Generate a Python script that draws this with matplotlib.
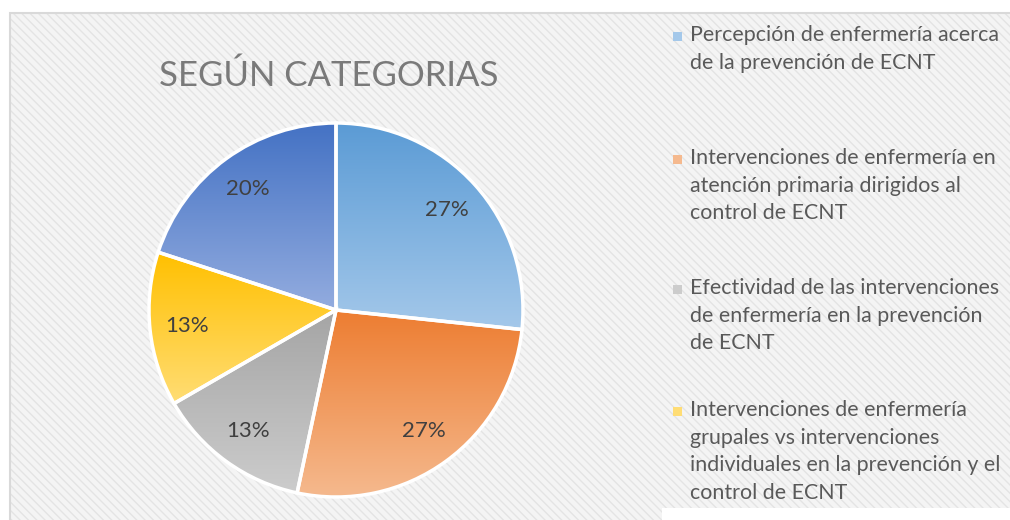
import numpy as np
import matplotlib
matplotlib.use("Agg")
import matplotlib.pyplot as plt
from matplotlib.patches import Rectangle
from matplotlib.colors import LinearSegmentedColormap

# data
categories = [
    "Percepción de enfermería acerca\nde la prevención de ECNT",
    "Intervenciones de enfermería en\natención primaria dirigidos al\ncontrol de ECNT",
    "Efectividad de las intervenciones\nde enfermería en la prevención\nde ECNT",
    "Intervenciones de enfermería\ngrupales vs intervenciones\nindividuales en la prevención y el\ncontrol de ECNT",
    "",
]
counts = [4, 4, 2, 2, 3]
title = "SEGÚN CATEGORIAS"

# gradient (top, bottom) per slice
grad_colors = [
    ("#5b9bd5", "#a4c8ea"),
    ("#ed7d31", "#f5b98e"),
    ("#a5a5a5", "#cccccc"),
    ("#ffc000", "#ffdd75"),
    ("#4472c4", "#93acdf"),
]

plt.rcParams['font.family'] = ['Lato', 'DejaVu Sans']

W, H = 1010, 520
fig = plt.figure(figsize=(W / 100, H / 100), dpi=100)
fig.patch.set_facecolor("white")

# chart area background with texture
bg = Rectangle((10 / W, 0), 1.0, (H - 13) / H, transform=fig.transFigure,
               facecolor="#f4f4f4", edgecolor="#e4e4e4", hatch="\\\\\\\\",
               linewidth=0, zorder=-3)
fig.patches.append(bg)
border = Rectangle((10 / W, -0.01), 1.0, (H - 13) / H + 0.01, transform=fig.transFigure,
                   facecolor="none", edgecolor="#d9d9d9", linewidth=1.5, zorder=-2)
fig.patches.append(border)
fig.patches.append(Rectangle((662 / W, 0), 1.0, 12 / H, transform=fig.transFigure,
                             facecolor="white", edgecolor="none", zorder=-2))

# pie axes
cx, cy, r = 336, 310, 187
lim = 1.1
side = 2 * lim * r
ax = fig.add_axes([(cx - side / 2) / W, (H - cy - side / 2) / H, side / W, side / H])
ax.set_facecolor("none")
ax.set_zorder(2)

wedges, texts, autotexts = ax.pie(
    counts, startangle=90, counterclock=False, radius=1,
    autopct=lambda p: f"{p:.0f}%", pctdistance=0.8,
    wedgeprops=dict(edgecolor="white", linewidth=2.5, facecolor="none"),
    textprops=dict(color="#404040", fontsize=16),
)

for w, (c0, c1) in zip(wedges, grad_colors):
    w.set_zorder(3)
    ext = w.get_path().get_extents()
    cmap = LinearSegmentedColormap.from_list("g", [c0, c1])
    grad = np.linspace(0, 1, 256).reshape(-1, 1)
    im = ax.imshow(grad, cmap=cmap, extent=[ext.x0, ext.x1, ext.y0, ext.y1],
                   origin="upper", aspect="auto", zorder=2)
    im.set_clip_path(w)

for t in autotexts:
    t.set_zorder(5)

ax.set_xlim(-lim, lim)
ax.set_ylim(-lim, lim)
ax.axis("off")

# title
fig.text(329 / W, 1 - 76 / H, title, ha="center", va="center",
         fontsize=25, color="#7a7a7a")

# legend (only the first four entries are visible)
entry_y = [37, 160, 290, 412]
for i in range(4):
    c0, c1 = grad_colors[i]
    yc = entry_y[i]
    fig.patches.append(Rectangle((673 / W, 1 - (yc + 4) / H), 9 / W, 9 / H,
                                 transform=fig.transFigure,
                                 facecolor=c1, edgecolor="none", zorder=4))
    fig.text(690 / W, 1 - (yc - 12) / H, categories[i], ha="left", va="top",
             fontsize=15.4, color="#595959", linespacing=1.47)

fig.savefig("out.png", dpi=100)
